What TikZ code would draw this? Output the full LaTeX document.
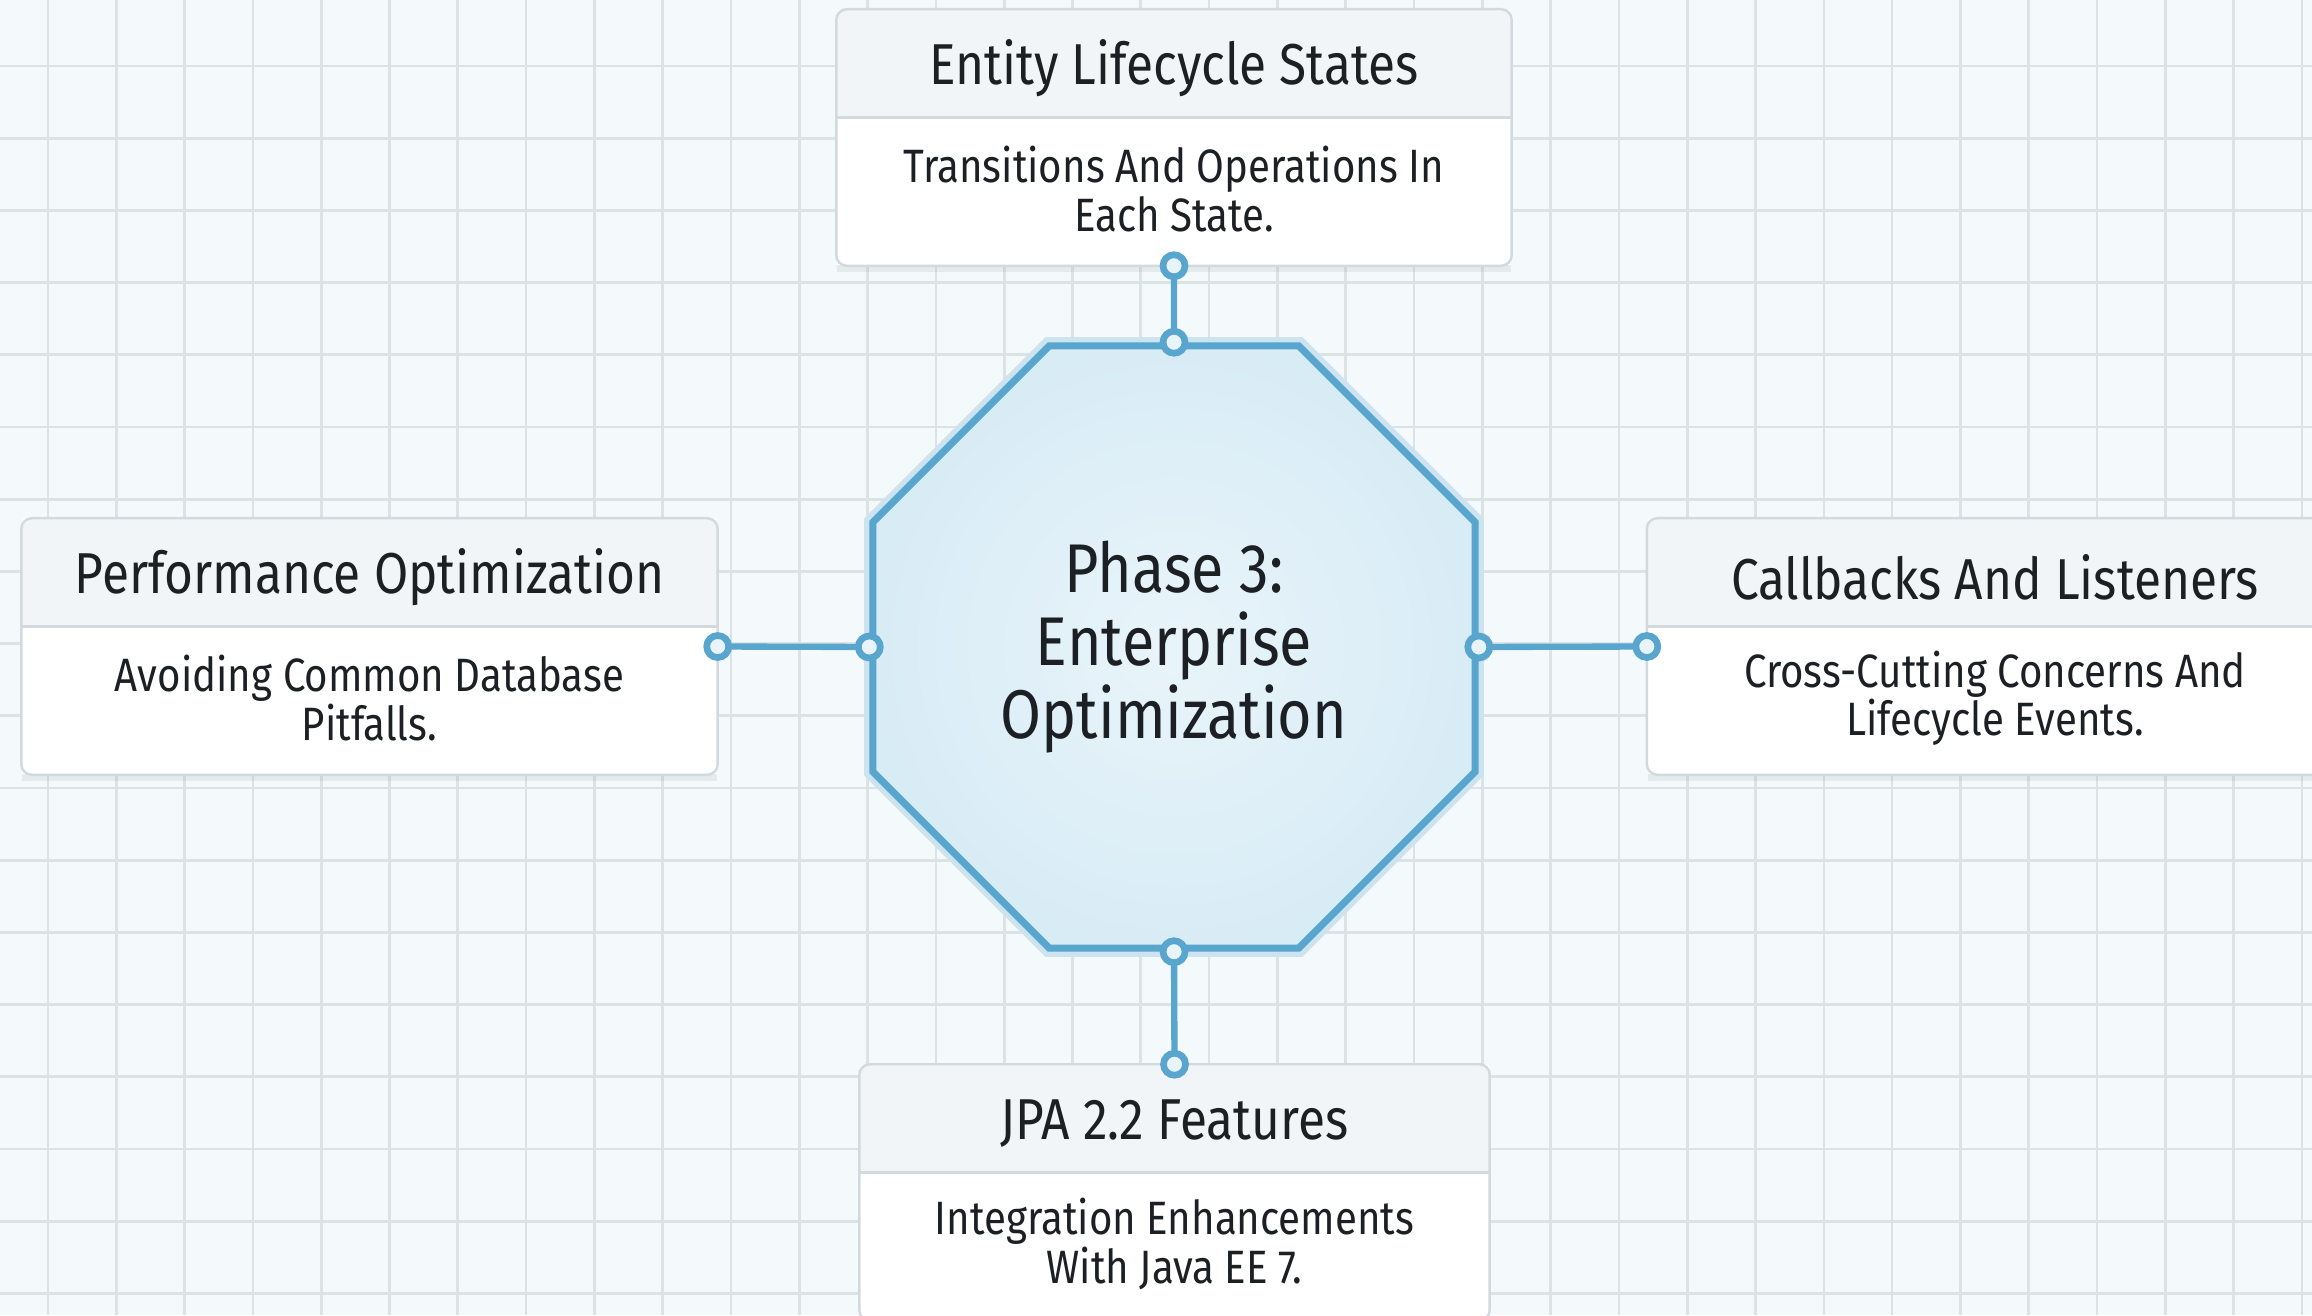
\documentclass[tikz,border=0pt]{standalone}
\usepackage{fontspec}
\usetikzlibrary{calc,shapes.geometric,shadows}
\newfontfamily\cardfont{Fira Sans}[FakeStretch=0.86]
\definecolor{paper}{HTML}{F4F9FB}
\definecolor{gridc}{HTML}{DCE3E7}
\definecolor{hubline}{HTML}{58A5CE}
\definecolor{hubin}{HTML}{E9F4FA}
\definecolor{hubout}{HTML}{D8ECF6}
\definecolor{cardline}{HTML}{D3DADF}
\definecolor{headfill}{HTML}{F2F5F7}
\definecolor{inktext}{HTML}{1C2024}
\tikzset{
	gridline/.style={draw=gridc, line width=0.75pt},
	card/.style={draw=none, fill=white, rectangle, minimum height=2.55cm,
		inner sep=0pt, drop shadow={opacity=0.12, shadow xshift=0pt, shadow yshift=-2pt}},
	cardedge/.style={draw=cardline, line width=0.7pt, rounded corners=3pt},
	divider/.style={draw=cardline, line width=0.8pt},
	cardtitle/.style={font=\cardfont\fontsize{16.4}{18}\selectfont, text=inktext, align=center},
	carddesc/.style={font=\cardfont\fontsize{13.3}{13.9}\selectfont, text=inktext, align=center},
	hub/.style={regular polygon, regular polygon sides=8, minimum size=6.516cm, inner sep=0pt,
		draw=hubline, line width=2pt, inner color=hubin, outer color=hubout,
		preaction={draw=hubline!30, line width=5pt},
		font=\cardfont\fontsize{19.6}{20.8}\selectfont, text=inktext, align=center},
	link/.style={draw=hubline, line width=1.8pt},
	port/.style={draw=hubline, fill=hubin, line width=1.9pt}
}
\begin{document}
\begin{tikzpicture}[x=0.01cm, y=-0.01cm]
	%paper and grid
	\useasboundingbox (0,0) rectangle (2312,1315);
	\fill[paper] (0,0) rectangle (2312,1315);
	\clip (0,0) rectangle (2312,1315);
	\foreach \i in {0,...,33}
	\draw[gridline] ({48+68.3*\i},0) -- ({48+68.3*\i},1315);
	\foreach \j in {0,...,17}
	\draw[gridline] (0,{66+72.2*\j}) -- (2312,{66+72.2*\j});
	%centre
	\node[hub] (hub) at (1174,647) {Phase 3:\\Enterprise\\Optimization};
	%cards
	\foreach \nm/\cx/\cy/\cw/\ttl/\dsc in {
		states/1174/137.5/674/{Entity Lifecycle States}/{Transitions And Operations In\\Each State.},
		perf/369.5/646.5/695/{Performance Optimization}/{Avoiding Common Database\\Pitfalls.},
		callbacks/1995/646.5/695/{Callbacks And Listeners}/{Cross-Cutting Concerns And\\Lifecycle Events.},
		jpa/1174.5/1192.5/629/{JPA 2.2 Features}/{Integration Enhancements\\With Java EE 7.}}
	{
		\node[card, minimum width={\cw*0.01cm}] (\nm) at (\cx,\cy) {};
		\begin{scope}
			\clip[rounded corners=3pt] (\nm.north west) rectangle (\nm.south east);
			\fill[headfill] (\nm.north west) rectangle ($(\nm.north east)+(0,108)$);
		\end{scope}
		\draw[divider] ($(\nm.north west)+(0,108)$) -- ($(\nm.north east)+(0,108)$);
		\draw[cardedge] (\nm.north west) rectangle (\nm.south east);
		\node[cardtitle] (\nm-title) at ($(\nm.north)+(0,59)$) {\ttl};
		\node[carddesc] (\nm-desc) at ($(\nm.north)+(0,180)$) {\dsc};
	}
	%links
	\draw[link] (states.south) -- (hub.north);
	\draw[link] (perf.east) -- (hub.west);
	\draw[link] (hub.east) -- (callbacks.west);
	\draw[link] (hub.south) -- (jpa.north);
	\foreach \p in {states.south, hub.north, perf.east, hub.west, hub.east, callbacks.west, hub.south, jpa.north}
	\draw[port] (\p) circle (11);
\end{tikzpicture}
\end{document}
